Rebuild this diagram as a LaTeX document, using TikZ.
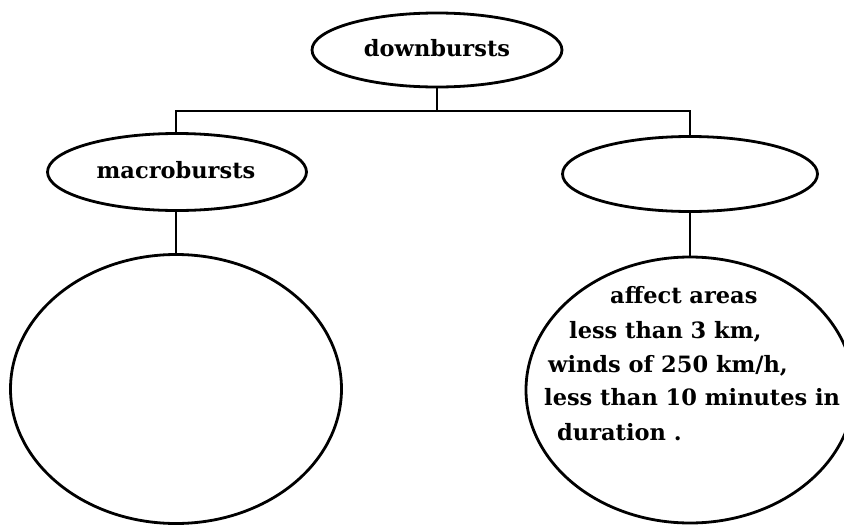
\documentclass[tikz,border=0pt]{standalone}
\usepackage{fontspec}
\setmainfont{DejaVu Serif}
\usetikzlibrary{shapes.geometric}
\tikzset{
  bubble/.style={draw, ellipse, line width=2.8pt, inner sep=0pt, outer sep=0pt},
  link/.style={line width=2.8pt},
  lbl/.style={font=\fontsize{22.5}{26}\selectfont\bfseries, inner sep=0pt},
  line/.style={font=\fontsize{22.5}{26}\selectfont\bfseries, inner sep=0pt, anchor=base west}
}
\begin{document}
\begin{tikzpicture}[x=1pt,y=-1pt]
\useasboundingbox (0,0) rectangle (844,525);
\node[bubble, minimum width=250pt, minimum height=74pt] (top) at (437,50) {};
\node[lbl] (toplbl) at (437,48) {downbursts};
\node[bubble, minimum width=259pt, minimum height=77pt] (macro) at (177,172) {};
\node[lbl] (macrolbl) at (176,170) {macrobursts};
\node[bubble, minimum width=255pt, minimum height=75pt] (micro) at (690,174) {};
\node[bubble, minimum width=331pt, minimum height=269pt] (bigL) at (176,389) {};
\node[bubble, minimum width=328pt, minimum height=266pt] (bigR) at (690,390) {};
\coordinate (junction) at (437,111);
\draw[link] (top.south) -- (junction);
\draw[link] (macro.north -| 176,0) |- (junction) -| (micro.north);
\draw[link] (176,0 |- macro.south) -- (bigL.north);
\draw[link] (micro.south) -- (bigR.north);
\node[line] (t1) at (610,303) {affect areas};
\node[line] (t2) at (569,338) {less than 3 km,};
\node[line] (t3) at (548,372) {winds of 250 km/h,};
\node[line] (t4) at (544,405) {less than 10 minutes in};
\node[line] (t5) at (557,440) {duration .};
\end{tikzpicture}
\end{document}
